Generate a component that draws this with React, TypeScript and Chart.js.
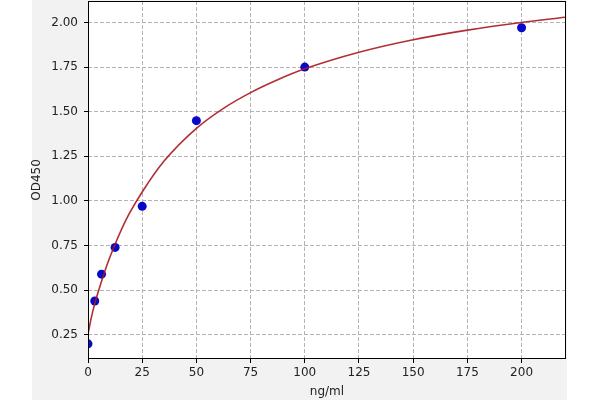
import React, { useEffect, useRef } from "react";
import { Chart, registerables } from "chart.js";

Chart.register(...registerables);

const concentrations = [0, 3.125, 6.25, 12.5, 25, 50, 100, 200];
const odValues = [0.2, 0.44, 0.59, 0.74, 0.97, 1.45, 1.75, 1.97];

const curveX = [0, 0.5, 1.5, 3.125, 6.25, 9, 12.5, 18, 25, 35, 50, 62.5, 75, 87.5, 100, 125, 150, 175, 200, 220];
const curveY = [0.255, 0.285, 0.345, 0.425, 0.55, 0.65, 0.758, 0.905, 1.05, 1.222, 1.407, 1.519, 1.607, 1.679, 1.74, 1.833, 1.903, 1.957, 2.0, 2.029];

const xTicks = [0, 25, 50, 75, 100, 125, 150, 175, 200];
const yTicks = [0.25, 0.5, 0.75, 1.0, 1.25, 1.5, 1.75, 2.0];

const xTitle = "ng/ml";
const yTitle = "OD450";

const FONT = "'DejaVu Sans', sans-serif";

const framePlugin = {
  id: "framePlugin",
  beforeDraw(chart: any) {
    const { ctx, chartArea } = chart;
    ctx.save();
    ctx.fillStyle = "#ffffff";
    ctx.fillRect(0, 0, chart.width, chart.height);
    ctx.fillStyle = "#f2f2f2";
    ctx.fillRect(32, 0, 535, chart.height);
    ctx.fillStyle = "#ffffff";
    ctx.fillRect(chartArea.left, chartArea.top, chartArea.right - chartArea.left, chartArea.bottom - chartArea.top);
    ctx.restore();
  },
  afterDraw(chart: any) {
    const { ctx, chartArea } = chart;
    ctx.save();
    ctx.strokeStyle = "#000000";
    ctx.lineWidth = 1;
    ctx.strokeRect(
      Math.round(chartArea.left) + 0.5,
      Math.round(chartArea.top) + 0.5,
      Math.round(chartArea.right - chartArea.left) - 1,
      Math.round(chartArea.bottom - chartArea.top) - 1
    );
    ctx.fillStyle = "#222222";
    ctx.font = `12px ${FONT}`;
    ctx.textAlign = "center";
    ctx.textBaseline = "middle";
    ctx.fillText(xTitle, (chartArea.left + chartArea.right) / 2, 392);
    ctx.translate(37, (chartArea.top + chartArea.bottom) / 2);
    ctx.rotate(-Math.PI / 2);
    ctx.fillText(yTitle, 0, 0);
    ctx.restore();
  },
};

export default function App() {
  const canvasRef = useRef<HTMLCanvasElement | null>(null);

  useEffect(() => {
    document.body.style.margin = "0";
    const canvas = canvasRef.current;
    if (!canvas) return;
    const gridCommon = {
      color: "#b4b4b4",
      lineWidth: 1,
      drawTicks: true,
      tickLength: 4,
      tickColor: "#000000",
      tickBorderDash: [],
      tickWidth: 1,
    };
    const borderCommon = { display: false, dash: [4, 2], dashOffset: 0 };
    const chart = new Chart(canvas, {
      type: "scatter",
      data: {
        datasets: [
          {
            type: "scatter",
            label: "points",
            data: concentrations.map((x, i) => ({ x, y: odValues[i] })),
            backgroundColor: "#0808c8",
            borderColor: "#0808c8",
            pointRadius: 4.5,
            pointBorderWidth: 0,
            clip: 0,
            order: 1,
          } as any,
          {
            type: "line",
            label: "curve",
            data: curveX.map((x, i) => ({ x, y: curveY[i] })),
            borderColor: "rgba(168, 24, 30, 0.9)",
            borderWidth: 1.6,
            pointRadius: 0,
            fill: false,
            cubicInterpolationMode: "monotone",
            clip: 0,
            order: 0,
          } as any,
        ],
      },
      options: {
        responsive: false,
        animation: false,
        layout: { autoPadding: false, padding: { left: 32, right: 34, top: 1, bottom: 0 } },
        plugins: {
          legend: { display: false },
          tooltip: { enabled: false },
        },
        scales: {
          x: {
            type: "linear",
            position: "bottom",
            min: 0,
            max: 220.5,
            border: borderCommon as any,
            grid: gridCommon as any,
            afterBuildTicks: (scale: any) => {
              scale.ticks = xTicks.map((v) => ({ value: v }));
            },
            afterFit: (scale: any) => {
              scale.height = 41;
              scale.paddingLeft = 0;
              scale.paddingRight = 0;
            },
            ticks: {
              color: "#222222",
              font: { family: FONT, size: 12 },
              padding: 3,
              maxRotation: 0,
              callback: (v: any) => String(v),
            },
          },
          y: {
            type: "linear",
            position: "left",
            min: 0.115,
            max: 2.12,
            border: borderCommon as any,
            grid: gridCommon as any,
            afterBuildTicks: (scale: any) => {
              scale.ticks = yTicks.map((v) => ({ value: v }));
            },
            afterFit: (scale: any) => {
              scale.width = 56;
              scale.paddingTop = 0;
              scale.paddingBottom = 0;
            },
            ticks: {
              color: "#222222",
              font: { family: FONT, size: 12 },
              padding: 6,
              callback: (v: any) => Number(v).toFixed(2),
            },
          },
        },
      },
      plugins: [framePlugin],
    });
    return () => chart.destroy();
  }, []);

  return (
    <div style={{ position: "absolute", left: 0, top: 0, width: 600, height: 400 }}>
      <canvas ref={canvasRef} width={600} height={400} style={{ display: "block", width: 600, height: 400 }} />
    </div>
  );
}
